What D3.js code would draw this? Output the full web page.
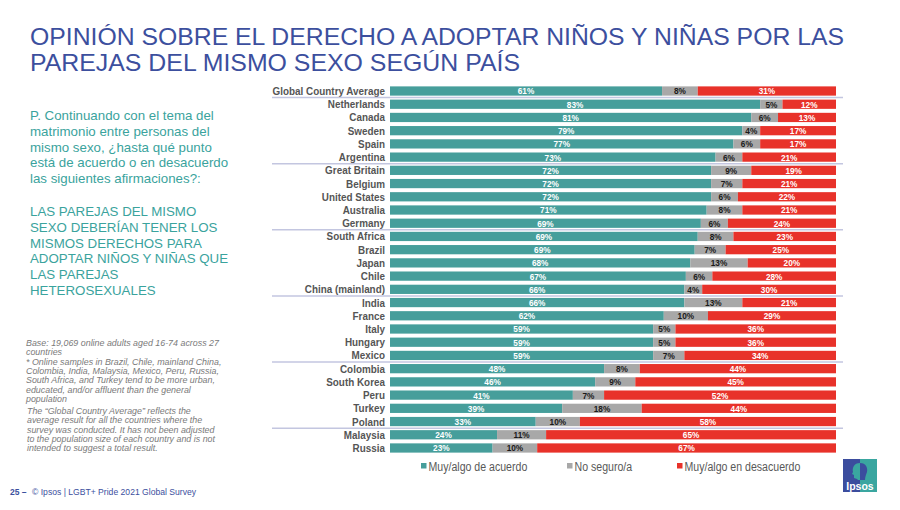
<!DOCTYPE html>
<html><head><meta charset="utf-8">
<script src="https://cdn.jsdelivr.net/npm/d3@7/dist/d3.min.js"></script>
<style>
body{margin:0;background:#fff;}
svg{display:block;}
</style></head>
<body>
<svg id="c" width="900" height="510"></svg>
<script>
const countries = ["Global Country Average","Netherlands","Canada","Sweden","Spain","Argentina","Great Britain","Belgium","United States","Australia","Germany","South Africa","Brazil","Japan","Chile","China (mainland)","India","France","Italy","Hungary","Mexico","Colombia","South Korea","Peru","Turkey","Poland","Malaysia","Russia"];
const agree    = [61,83,81,79,77,73,72,72,72,71,69,69,69,68,67,66,66,62,59,59,59,48,46,41,39,33,24,23];
const notSure  = [8,5,6,4,6,6,9,7,6,8,6,8,7,13,6,4,13,10,5,5,7,8,9,7,18,10,11,10];
const disagree = [31,12,13,17,17,21,19,21,22,21,24,23,25,20,28,30,21,29,36,36,34,44,45,52,44,58,65,67];
const seriesNames = ["Muy/algo de acuerdo","No seguro/a","Muy/algo en desacuerdo"];
const separatorsAfter = ["Global Country Average","Argentina","Germany","China (mainland)","Mexico","Poland"];

const colors = ["#469e9b","#a8a8a8","#e8322a"];
const labelColors = ["#ffffff","#1a1a1a","#ffffff"];
const blue = "#3c4f9e";
const teal = "#3aa39d";
const sans = "'Liberation Sans',Arial,sans-serif";

const svg = d3.select("#c");

// condensed text helper (horizontal squeeze)
function ctext(parent, x, y, sx, txt){
  return parent.append("text").attr("transform",`translate(${x},${y}) scale(${sx},1)`)
    .attr("font-family",sans).text(txt);
}

// Title
const title = ["OPINIÓN SOBRE EL DERECHO A ADOPTAR NIÑOS Y NIÑAS POR LAS","PAREJAS DEL MISMO SEXO SEGÚN PAÍS"];
const titleW = [814, 490];
title.forEach((t,i)=>{
  svg.append("text").attr("x",30).attr("y",45+i*25.5)
    .attr("font-family",sans).attr("font-size",24.5).attr("fill",blue)
    .attr("textLength",titleW[i]).attr("lengthAdjust","spacingAndGlyphs")
    .text(t);
});

// Question text
const q1 = ["P. Continuando con el tema del","matrimonio entre personas del","mismo sexo, ¿hasta qué punto","está de acuerdo o en desacuerdo","las siguientes afirmaciones?:"];
q1.forEach((t,i)=>{
  svg.append("text").attr("x",30).attr("y",120+i*15.8)
    .attr("font-family",sans).attr("font-size",13.3).attr("fill",teal).text(t);
});
const q2 = ["LAS PAREJAS DEL MISMO","SEXO DEBERÍAN TENER LOS","MISMOS DERECHOS PARA","ADOPTAR NIÑOS Y NIÑAS QUE","LAS PAREJAS","HETEROSEXUALES"];
q2.forEach((t,i)=>{
  svg.append("text").attr("x",30).attr("y",216+i*15.8)
    .attr("font-family",sans).attr("font-size",13.3).attr("fill",teal).text(t);
});

// Footnotes
const fn1 = ["Base: 19,069 online adults aged 16-74 across 27","countries","* Online samples in Brazil, Chile, mainland China,","Colombia, India, Malaysia, Mexico, Peru, Russia,","South Africa, and Turkey tend to be more urban,","educated, and/or affluent than the general","population"];
fn1.forEach((t,i)=>{
  svg.append("text").attr("x",26).attr("y",346+i*9.3)
    .attr("font-family",sans).attr("font-size",8.9).attr("font-style","italic").attr("fill","#7a7a7a").text(t);
});
const fn2 = ["The “Global  Country Average” reflects the","average result for all the countries where the","survey was conducted. It has not been adjusted","to the population size of each country and is not","intended to suggest a total result."];
fn2.forEach((t,i)=>{
  svg.append("text").attr("x",27).attr("y",414+i*9.3)
    .attr("font-family",sans).attr("font-size",8.9).attr("font-style","italic").attr("fill","#7a7a7a").text(t);
});

// Chart
const data = countries.map((c,i)=>({country:c, vals:[agree[i],notSure[i],disagree[i]]}));
const y = d3.scaleBand().domain(countries).range([84.4,454.6]).paddingInner(0.3).paddingOuter(0.15);
const g = svg.append("g");

data.forEach(d=>{
  const total = d3.sum(d.vals);
  const x = d3.scaleLinear().domain([0,total]).range([390,836]);
  let acc = 0;
  d.vals.forEach((v,k)=>{
    const x0 = x(acc), x1 = x(acc+v);
    g.append("rect").attr("x",x0).attr("y",y(d.country)).attr("width",x1-x0).attr("height",y.bandwidth()).attr("fill",colors[k]);
    ctext(g,(x0+x1)/2, y(d.country)+y.bandwidth()/2+3.4, 0.86, v+"%")
      .attr("text-anchor","middle").attr("font-weight","bold")
      .attr("font-size",9.6).attr("fill",labelColors[k]);
    acc += v;
  });
  ctext(g,385, y(d.country)+y.bandwidth()/2+4, 0.86, d.country)
    .attr("text-anchor","end").attr("font-weight","bold")
    .attr("font-size",11.5).attr("fill","#555555");
});

// separators
separatorsAfter.forEach(c=>{
  const yy = y(c)+y.bandwidth()+(y.step()-y.bandwidth())/2;
  g.append("line").attr("x1",272).attr("x2",843).attr("y1",yy).attr("y2",yy)
    .attr("stroke","#c3c6e0").attr("stroke-width",1.5);
});

// Legend
const legX = [421,567,677];
seriesNames.forEach((n,k)=>{
  svg.append("rect").attr("x",legX[k]).attr("y",463).attr("width",5.5).attr("height",5.5).attr("fill",colors[k]);
  ctext(svg,legX[k]+7.5, 470.8, 0.86, n).attr("font-size",12.3).attr("fill","#595959");
});

// Footer
svg.append("text").attr("x",10).attr("y",495).attr("font-family",sans).attr("font-weight","bold")
  .attr("font-size",8.5).attr("fill",blue).text("25 –");
svg.append("text").attr("x",32).attr("y",495).attr("font-family",sans)
  .attr("font-size",8.6).attr("fill",blue).text("© Ipsos | LGBT+ Pride 2021 Global Survey");

// Logo
const lg = svg.append("g").attr("transform","translate(843,459)");
lg.append("rect").attr("width",17).attr("height",33).attr("fill","#3b4d9e");
lg.append("rect").attr("x",17).attr("width",17).attr("height",33).attr("fill","#3aa6a0");
lg.append("path").attr("d","M17,4 C11,4 9,9 10,13 L9,15 L11,16 L11,19 L14,20 L15,21 L17,21 Z").attr("fill","#3aa6a0");
lg.append("path").attr("d","M17,4 C23,4 25,9 24,13 C23,16 22,18 22,21 L17,21 Z").attr("fill","#3b4d9e");
lg.append("text").attr("x",17).attr("y",30.5).attr("text-anchor","middle").attr("font-family",sans)
  .attr("font-weight","bold").attr("font-size",10.5).attr("fill","#ffffff").text("Ipsos");
</script>
</body></html>
